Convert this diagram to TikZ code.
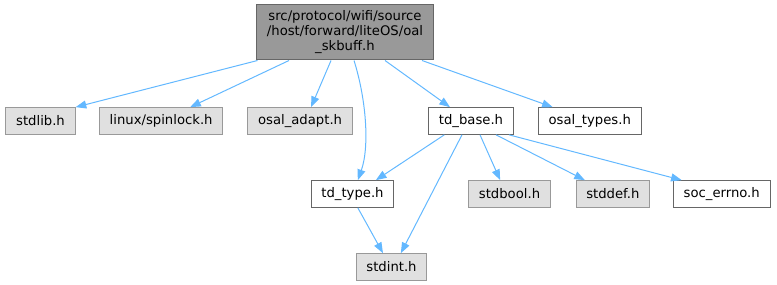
\documentclass[tikz,border=0pt]{standalone}
\usepackage{fontspec}
\setmainfont{DejaVu Sans}
\usetikzlibrary{arrows.meta,positioning}
\definecolor{dxedge}{HTML}{63B8FF}
\definecolor{dxhead}{HTML}{999999}
\definecolor{dxsys}{HTML}{E0E0E0}
\definecolor{dxline}{HTML}{666666}

\begin{document}
\begin{tikzpicture}[x=0.75pt,y=-0.75pt,font=\fontsize{9.9}{11.25}\selectfont,
    node distance=17.5pt,every node/.style={align=center,inner xsep=7.7pt,inner ysep=2pt,minimum height=20pt,line width=0.75pt},
    headbox/.style={draw=dxline,fill=dxhead,minimum width=132pt,minimum height=41.25pt},
    sysbox/.style={draw=dxhead,fill=dxsys},
    usrbox/.style={draw=dxline,fill=white},
    dep/.style={draw=dxedge,line width=0.75pt,-{Triangle[length=8pt,width=6pt]}}]
  \useasboundingbox (0,0) rectangle (777,285);
  % file itself
  \node[headbox] (src) at (345,32.5) {src/protocol/wifi/source\\/host/forward/liteOS/oal\\\_skbuff.h};
  % first level
  \node[sysbox] (stdlib) at (40.5,121) {stdlib.h};
  \node[sysbox,right=of stdlib] (spinlock) {linux/spinlock.h};
  \node[sysbox,right=18pt of spinlock] (adapt) {osal\_adapt.h};
  \node[usrbox] (base) at (471,121) {td\_base.h};
  \node[usrbox,right=18pt of base] (types) {osal\_types.h};
  % second level
  \node[usrbox] (ttype) at (352.5,194) {td\_type.h};
  \node[sysbox] (stdbool) at (509.5,194) {stdbool.h};
  \node[sysbox,right=18.5pt of stdbool] (stddef) {stddef.h};
  \node[usrbox,right=17pt of stddef] (errno) {soc\_errno.h};
  \node[sysbox] (stdint) at (391.5,267) {stdint.h};
  % includes
  \draw[dep] ([xshift=1pt]src.south west) -- (stdlib.north east);
  \draw[dep] ([xshift=-42pt]src.south) -- ([xshift=21.75pt]spinlock.north);
  \draw[dep] ([xshift=-10.5pt]src.south) -- ([xshift=8.25pt]adapt.north);
  \draw[dep] ([xshift=6.75pt]src.south) .. controls +(12,38) and +(12,-34) .. ([xshift=4pt]ttype.north);
  \draw[dep] ([xshift=30pt]src.south) -- ([xshift=-15.75pt]base.north);
  \draw[dep] ([xshift=57.75pt]src.south) -- ([xshift=-27.75pt]types.north);
  \draw[dep] ([xshift=-20pt]base.south) -- ([xshift=17.5pt]ttype.north);
  \draw[dep] ([xshift=-6.75pt]base.south) -- ([xshift=7pt]stdint.north);
  \draw[dep] ([xshift=6.75pt]base.south) -- ([xshift=-7pt]stdbool.north);
  \draw[dep] ([xshift=18.75pt]base.south) -- ([xshift=-21pt]stddef.north);
  \draw[dep] ([xshift=28.5pt]base.south) -- ([xshift=-30pt]errno.north);
  \draw[dep] ([xshift=4pt]ttype.south) -- ([xshift=-6.4pt]stdint.north);
\end{tikzpicture}
\end{document}
